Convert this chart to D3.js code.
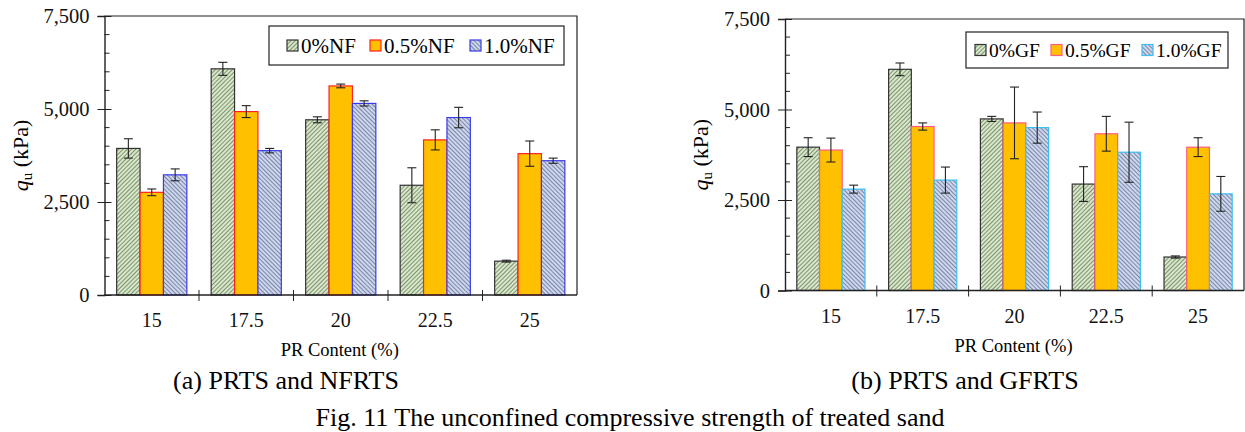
<!DOCTYPE html>
<html>
<head>
<meta charset="utf-8">
<script src="https://cdn.jsdelivr.net/npm/d3@7"></script>
<style>
  body { margin: 0; background: #fff; }
  svg, svg text { font-family: "Liberation Serif", "Times New Roman", serif; }
</style>
</head>
<body>
<div id="container"></div>
<script>
// values (kPa)
const categories = ["15", "17.5", "20", "22.5", "25"];
const yTicks = [0, 2500, 5000, 7500];

const nfSeries = ["0%NF", "0.5%NF", "1.0%NF"];
const nf0 = [3940, 6080, 4710, 2950, 910];
const nf05 = [2760, 4930, 5620, 4170, 3800];
const nf10 = [3230, 3880, 5150, 4770, 3610];
const nf0Err = [260, 175, 80, 470, 25];
const nf05Err = [90, 160, 50, 270, 340];
const nf10Err = [160, 60, 70, 275, 70];

const gfSeries = ["0%GF", "0.5%GF", "1.0%GF"];
const gf0 = [3960, 6110, 4740, 2940, 925];
const gf05 = [3880, 4530, 4630, 4330, 3960];
const gf10 = [2800, 3050, 4500, 3820, 2670];
const gf0Err = [260, 175, 70, 480, 30];
const gf05Err = [330, 100, 990, 480, 260];
const gf10Err = [110, 360, 430, 830, 480];

const width = 1245;
const height = 432;
const serif = "Liberation Serif";

const svg = d3
  .create("svg")
  .attr("width", width)
  .attr("height", height)
  .attr("font-family", serif);

// hatch patterns
const defs = svg.append("defs");
const addHatch = (id, bg, line, angle) => {
  const p = defs
    .append("pattern")
    .attr("id", id)
    .attr("patternUnits", "userSpaceOnUse")
    .attr("width", 3)
    .attr("height", 3)
    .attr("patternTransform", `rotate(${angle})`);
  p.append("rect").attr("width", 3).attr("height", 3).attr("fill", bg);
  p.append("line")
    .attr("x1", 0.5).attr("y1", 0).attr("x2", 0.5).attr("y2", 3)
    .attr("stroke", line)
    .attr("stroke-width", 0.7);
};
addHatch("hatchGreen", "#d6e8c8", "#5d6c52", 45);
addHatch("hatchBlue", "#ccd6ee", "#5c6480", -45);

const drawPanel = (opts) => {
  const { left, right, top, bottom, series, means, errors, strokes, legendBox } = opts;
  const fills = ["url(#hatchGreen)", "#ffc000", "url(#hatchBlue)"];

  const g = svg.append("g");

  const x = d3.scaleBand().domain(categories).range([left, right]);
  const xSub = d3
    .scaleBand()
    .domain(d3.range(series.length))
    .range([0, x.bandwidth()])
    .paddingOuter(0.52)
    .paddingInner(0);

  const y = d3.scaleLinear().domain([0, 7500]).range([bottom, top]);

  // frame
  g.append("path")
    .attr("d", `M${left},${top}H${right}V${bottom}`)
    .attr("fill", "none")
    .attr("stroke", "#222")
    .attr("stroke-width", 1.2);

  // bars
  series.forEach((s, si) => {
    g.append("g")
      .selectAll("rect")
      .data(means[si])
      .join("rect")
      .attr("x", (d, i) => x(categories[i]) + xSub(si))
      .attr("y", (d) => y(d))
      .attr("width", xSub.bandwidth())
      .attr("height", (d) => y(0) - y(d))
      .attr("fill", fills[si])
      .attr("stroke", strokes[si])
      .attr("stroke-width", 1.2);
  });

  // error bars
  series.forEach((s, si) => {
    means[si].forEach((m, i) => {
      const cx = x(categories[i]) + xSub(si) + xSub.bandwidth() / 2;
      const e = errors[si][i];
      const eg = g.append("g").attr("stroke", "#222").attr("stroke-width", 1.1);
      eg.append("line").attr("x1", cx).attr("x2", cx).attr("y1", y(m - e)).attr("y2", y(m + e));
      eg.append("line").attr("x1", cx - 4.5).attr("x2", cx + 4.5).attr("y1", y(m - e)).attr("y2", y(m - e));
      eg.append("line").attr("x1", cx - 4.5).attr("x2", cx + 4.5).attr("y1", y(m + e)).attr("y2", y(m + e));
    });
  });

  // y axis: major ticks cross the line, minor ticks inside
  const yAxis = g.append("g").attr("transform", `translate(${left},0)`);
  yAxis
    .call(
      d3.axisLeft(y).tickValues(yTicks).tickSize(7).tickPadding(8).tickFormat(d3.format(","))
    )
    .attr("font-family", serif)
    .attr("font-size", 20.5);
  yAxis.select(".domain").attr("stroke", "#222").attr("stroke-width", 1.4);
  yAxis.selectAll(".tick line").attr("x2", 7).attr("x1", -7).attr("stroke", "#222");
  yAxis.selectAll(".tick text").attr("fill", "#111").attr("font-family", serif);
  yAxis
    .selectAll(".minor")
    .data(d3.range(0, 7501, 500).filter((v) => v % 2500 !== 0))
    .join("line")
    .attr("class", "minor")
    .attr("x1", 0)
    .attr("x2", 5)
    .attr("y1", (d) => y(d))
    .attr("y2", (d) => y(d))
    .attr("stroke", "#222");

  // x axis: ticks at category boundaries
  const xAxis = g.append("g");
  xAxis
    .append("line")
    .attr("x1", left).attr("x2", right)
    .attr("y1", bottom).attr("y2", bottom)
    .attr("stroke", "#222")
    .attr("stroke-width", 1.4);
  xAxis
    .selectAll(".bt")
    .data(categories.slice(1))
    .join("line")
    .attr("class", "bt")
    .attr("x1", (d) => x(d))
    .attr("x2", (d) => x(d))
    .attr("y1", bottom - 5)
    .attr("y2", bottom + 6)
    .attr("stroke", "#222");
  xAxis
    .selectAll("text")
    .data(categories)
    .join("text")
    .attr("x", (d) => x(d) + x.bandwidth() / 2)
    .attr("y", bottom + 32)
    .attr("text-anchor", "middle")
    .attr("font-family", serif)
    .attr("font-size", 20)
    .attr("fill", "#111")
    .text((d) => d);

  // axis titles
  g.append("text")
    .attr("x", (left + right) / 2 - 1)
    .attr("y", bottom + 61)
    .attr("text-anchor", "middle")
    .attr("font-family", serif)
    .attr("font-size", 18.5)
    .text("PR Content (%)");

  const yt = g
    .append("text")
    .attr("transform", `translate(${left - 77},${(top + bottom) / 2}) rotate(-90)`)
    .attr("text-anchor", "middle")
    .attr("font-family", serif)
    .attr("font-size", 22);
  yt.append("tspan").attr("font-style", "italic").text("q");
  yt.append("tspan").attr("font-size", 15).attr("dy", 4).text("u");
  yt.append("tspan").attr("dy", -4).text(" (kPa)");

  // legend
  const lg = g.append("g");
  lg.append("rect")
    .attr("x", legendBox.x)
    .attr("y", legendBox.y)
    .attr("width", legendBox.w)
    .attr("height", legendBox.h)
    .attr("fill", "#fff")
    .attr("stroke", "#222")
    .attr("stroke-width", 1.2);
  series.forEach((s, si) => {
    const sx = legendBox.items[si];
    const sy = legendBox.y + legendBox.h / 2;
    lg.append("rect")
      .attr("x", sx)
      .attr("y", sy - 5.5)
      .attr("width", 11)
      .attr("height", 11)
      .attr("fill", fills[si])
      .attr("stroke", strokes[si])
      .attr("stroke-width", 1.2);
    lg.append("text")
      .attr("x", sx + 14)
      .attr("y", sy + 7)
      .attr("font-family", serif)
      .attr("font-size", legendBox.font)
      .text(s);
  });
};

drawPanel({
  left: 104.5,
  right: 577,
  top: 16,
  bottom: 295,
  series: nfSeries,
  means: [nf0, nf05, nf10],
  errors: [nf0Err, nf05Err, nf10Err],
  strokes: ["#333", "#ff2020", "#3a3ae8"],
  legendBox: { x: 269, y: 26, w: 295, h: 39, items: [287, 370, 470], font: 21 },
});

drawPanel({
  left: 785,
  right: 1244,
  top: 19,
  bottom: 290.5,
  series: gfSeries,
  means: [gf0, gf05, gf10],
  errors: [gf0Err, gf05Err, gf10Err],
  strokes: ["#333", "#ff5c8a", "#3cbef0"],
  legendBox: { x: 966, y: 32, w: 262, h: 36, items: [975, 1051, 1142], font: 19.5 },
});

// captions
const caption = (x, y, t) =>
  svg.append("text")
    .attr("x", x).attr("y", y)
    .attr("text-anchor", "middle")
    .attr("font-family", serif)
    .attr("font-size", 26)
    .text(t);
caption(286, 389, "(a) PRTS and NFRTS");
caption(965, 389, "(b) PRTS and GFRTS");
caption(630, 426, "Fig.  11 The unconfined compressive strength of treated sand");

d3.select("#container").append(() => svg.node());
</script>
</body>
</html>
